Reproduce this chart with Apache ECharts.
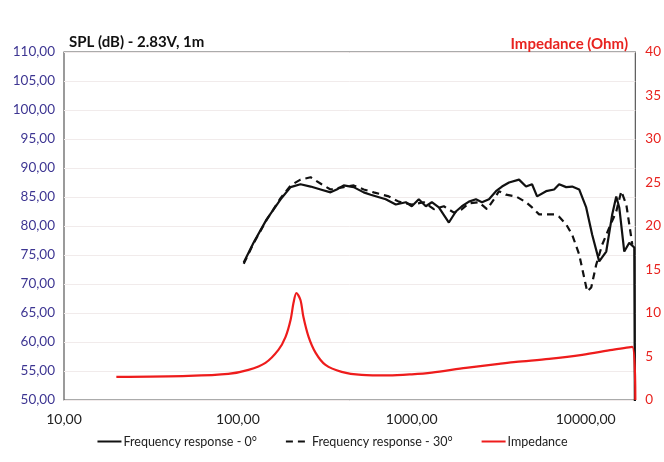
<!DOCTYPE html>
<html>
<head>
<meta charset="utf-8">
<script src="https://cdn.jsdelivr.net/npm/echarts@6/dist/echarts.min.js"></script>
<style>
html,body{margin:0;padding:0;background:#fff;}
#c{width:664px;height:462px;}
</style>
</head>
<body>
<div id="c"></div>
<script>
// Frequency response 0°
var freq0 = [108,123,146,176,201,229,262,299,341,370,406,463,529,580,708,809,924,1000,1097,1204,1304,1431,1634,1793,1942,2131,2338,2533,2779,3049,3302,3624,4137,4540,4916,5253,5920,6584,7037,7720,8360,9174,10066,10900,11960,13130,14210,14990,15600,16670,17810,19030,19300];
var spl0  = [73.7,77.1,81.1,84.6,86.7,87.2,86.8,86.3,85.8,86.3,87.0,86.7,85.8,85.4,84.6,83.7,84.1,83.4,84.6,83.4,84.1,83.2,80.6,82.5,83.4,84.2,84.6,84.1,84.6,86.0,86.8,87.5,88.0,86.8,87.2,85.1,86.0,86.3,87.2,86.7,86.8,86.3,83.2,78.5,73.9,75.6,82.0,85.1,83.2,75.6,77.1,76.3,30];
// Frequency response 30°
var freq30 = [108,123,146,176,201,229,262,303,341,406,463,529,604,737,841,1000,1173,1339,1529,1747,1942,2131,2433,2706,2969,3171,3483,3977,4540,4916,5395,5920,6584,7037,7720,8360,9174,9804,10200,10760,11490,12450,13660,14990,16020,17120,17810,18540];
var spl30  = [73.5,77.0,81.0,84.8,87.0,88.0,88.4,87.2,86.3,86.7,87.0,86.3,85.8,85.1,84.2,83.7,84.1,82.9,83.4,82.3,82.9,83.9,84.1,82.9,84.6,86.0,85.4,85.1,84.1,83.2,82.0,82.0,82.0,81.6,80.3,78.5,75.1,71.1,68.7,69.4,73.3,76.8,79.7,82.5,86.0,83.7,80.3,76.8];
// Impedance
var freqZ = [20,52,88,115,144,171,188,201,209,217,229,238,255,280,319,395,515,737,1000,1304,2047,3171,3977,6160,9546,14210,18540,19300];
var imp   = [2.65,2.77,3.0,3.46,4.27,5.76,7.26,9.22,11.2,12.3,11.5,9.57,7.26,5.42,4.03,3.23,2.88,2.82,2.95,3.15,3.69,4.15,4.38,4.73,5.19,5.76,6.1,0];

var leftTicks = [50,110,5];
var rightTicks = [0,40,5];
var xTicks = [10,19300];

function pairs(a,b){return a.map(function(v,i){return [v,b[i]];});}
function fmt(v){return v.toFixed(2).replace('.',',');}

var chart = echarts.init(document.getElementById('c'));
var font = 'Lato, "Open Sans", sans-serif';
chart.setOption({
  animation:false,
  backgroundColor:'#fff',
  textStyle:{fontFamily:font},
  grid:{left:64,right:28,top:52,bottom:62,show:true,borderColor:'#595959',borderWidth:1.2,backgroundColor:'transparent'},
  title:[
    {text:'SPL (dB) - 2.83V, 1m',left:64,top:30,textStyle:{fontSize:15,fontWeight:'bold',color:'#111',fontFamily:font}},
    {text:'Impedance (Ohm)',right:31,top:32,textStyle:{fontSize:15,fontWeight:'bold',color:'#e8231f',fontFamily:font}}
  ],
  legend:{
    bottom:9,left:'center',itemWidth:24,itemHeight:10,itemGap:28,
    itemStyle:{opacity:0},
    textStyle:{fontSize:12.5,color:'#222',fontFamily:font,padding:[0,0,0,-3]},
    data:['Frequency response - 0°','Frequency response - 30°','Impedance']
  },
  xAxis:{
    type:'log',logBase:10,min:xTicks[0],max:xTicks[1],
    axisLine:{show:false},axisTick:{show:false},splitLine:{show:false},
    axisLabel:{formatter:function(v){return fmt(v);},fontSize:14,color:'#222',margin:12,showMaxLabel:false,fontFamily:font}
  },
  yAxis:[
    {type:'value',min:leftTicks[0],max:leftTicks[1],interval:leftTicks[2],
     axisLine:{show:false},axisTick:{show:false},
     splitLine:{show:true,lineStyle:{color:'#f1ebeb',width:1}},
     axisLabel:{formatter:function(v){return fmt(v);},fontSize:13.5,color:'#3d3592',margin:9,fontFamily:font}},
    {type:'value',min:rightTicks[0],max:rightTicks[1],interval:rightTicks[2],position:'right',
     axisLine:{show:false},axisTick:{show:false},splitLine:{show:false},
     axisLabel:{fontSize:13.5,color:'#e8231f',margin:10,fontFamily:font}}
  ],
  series:[
    {name:'Frequency response - 0°',type:'line',yAxisIndex:0,symbol:'none',clip:true,
     data:pairs(freq0,spl0),lineStyle:{color:'#111',width:2.2},itemStyle:{color:'#111'},z:3},
    {name:'Frequency response - 30°',type:'line',yAxisIndex:0,symbol:'none',clip:true,
     data:pairs(freq30,spl30),lineStyle:{color:'#111',width:2.2,type:[7,5]},itemStyle:{color:'#111'},z:2},
    {name:'Impedance',type:'line',yAxisIndex:1,symbol:'none',smooth:0.3,clip:true,
     data:pairs(freqZ,imp),lineStyle:{color:'#ee1c1c',width:2.2},itemStyle:{color:'#ee1c1c'},z:4}
  ]
});
</script>
</body>
</html>
